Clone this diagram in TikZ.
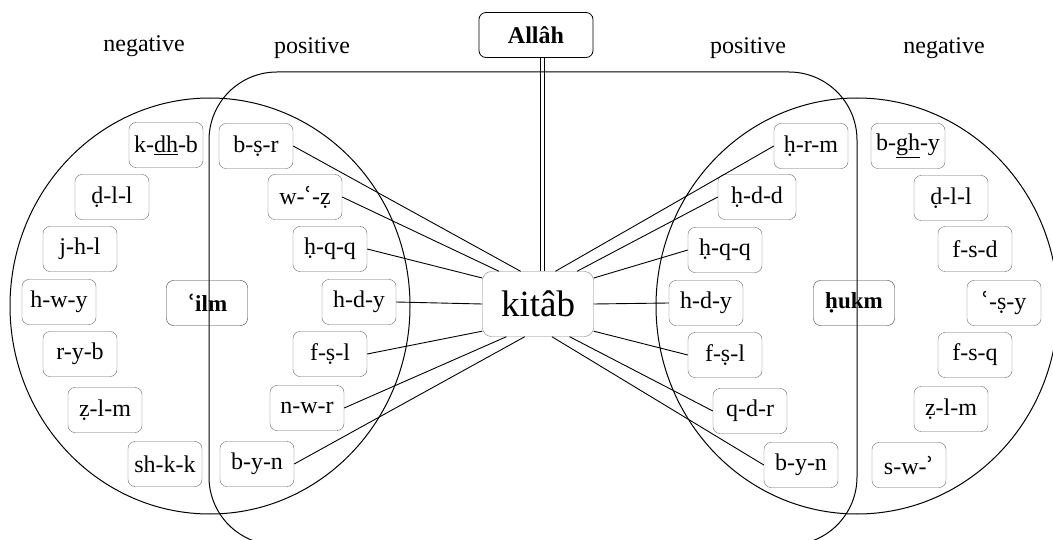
\documentclass[tikz,border=0pt]{standalone}
\usepackage{fontspec}
\setmainfont{Liberation Serif}
\newfontfamily\dvs{DejaVu Serif}
\newcommand{\ayn}{{\dvs ʿ}}
\newcommand{\hmz}{{\dvs ʾ}}
\begin{document}
\begin{tikzpicture}[x=1pt,y=-1pt,
  root/.style={draw=black!60, rounded corners=7pt, minimum width=74pt, minimum height=45pt, inner sep=2pt, font=\fontsize{24}{28}\selectfont},
  keybox/.style={draw=black!80, rounded corners=7pt, minimum width=81pt, minimum height=45pt, inner sep=2pt, font=\bfseries\fontsize{23}{27}\selectfont},
  lab/.style={font=\fontsize{24}{28}\selectfont},
  link/.style={black, line width=0.9pt},
  area/.style={black, line width=1pt}]
\clip (0,0) rectangle (1053,540);
% regions
\draw[area] (210,306) ellipse [x radius=200pt, y radius=208pt];
\draw[area] (857,306) ellipse [x radius=201pt, y radius=208pt];
\draw[area, rounded corners=68pt] (209,72) rectangle (857,545);
% labels
\node[lab] (ln) at (144,46) {negative};
\node[lab] (lp) at (312,48) {positive};
\node[lab] (rp) at (748,48) {positive};
\node[lab] (rn) at (944,48) {negative};
% central nodes
\node[draw=black, line width=0.8pt, rounded corners=7pt, minimum width=114pt, minimum height=45pt, font=\bfseries\fontsize{24}{28}\selectfont] (allah) at (536,35) {Allâh};
\node[draw=black!50, rounded corners=9pt, minimum width=111pt, minimum height=65pt, font=\fontsize{37}{42}\selectfont] (kitab) at (538,304) {kitâb};
\draw[link] ([xshift=4pt]allah.south) -- ([xshift=4pt]allah.south |- kitab.north);
\draw[link] ([xshift=8pt]allah.south) -- ([xshift=8pt]allah.south |- kitab.north);
% key nodes
\node[keybox] (ilm) at (207,303) {\ayn ilm};
\node[keybox] (hukm) at (854,303) {ḥukm};
% left negative
\node[root] (kdhb) at (166,145) {k-\underline{dh}-b};
\node[root] (dll1) at (112,197) {ḍ-l-l};
\node[root] (jhl) at (80,249) {j-h-l};
\node[root] (hwy) at (59,302) {h-w-y};
\node[root] (ryb) at (80,354) {r-y-b};
\node[root] (zlm1) at (105,410) {ẓ-l-m};
\node[root] (shkk) at (165,464) {sh-k-k};
% left positive
\node[root] (bsr) at (256,146) {b-ṣ-r};
\node[root] (waz) at (305,197) {w-\ayn-ẓ};
\node[root] (hqq1) at (330,249) {ḥ-q-q};
\node[root] (hdy1) at (359,302) {h-d-y};
\node[root] (fsl1) at (330,354) {f-ṣ-l};
\node[root] (nwr) at (307,408) {n-w-r};
\node[root] (byn1) at (257,464) {b-y-n};
% right positive
\node[root] (hrm) at (811,146) {ḥ-r-m};
\node[root, minimum width=78pt] (hdd) at (757,197) {ḥ-d-d};
\node[root] (hqq2) at (725,250) {ḥ-q-q};
\node[root] (hdy2) at (706,303) {h-d-y};
\node[root] (fsl2) at (725,355) {f-ṣ-l};
\node[root] (qdr) at (750,411) {q-d-r};
\node[root] (byn2) at (801,465) {b-y-n};
% right negative
\node[root] (bghy) at (908,146) {b-\underline{gh}-y};
\node[root] (dll2) at (951,198) {ḍ-l-l};
\node[root] (fsd) at (975,249) {f-s-d};
\node[root] (asy) at (1004,303) {\ayn-ṣ-y};
\node[root] (fsq) at (975,355) {f-s-q};
\node[root] (zlm2) at (951,409) {ẓ-l-m};
\node[root] (swa) at (909,465) {s-w-\hmz};
% connectors
\draw[link] (bsr.east) -- (kitab.118);
\draw[link] (waz.east) -- (kitab.140);
\draw[link] (hqq1.east) -- (kitab.155);
\draw[link] (hdy1.east) -- (kitab.180);
\draw[link] (fsl1.east) -- (kitab.206);
\draw[link] (nwr.east) -- (kitab.226);
\draw[link] (byn1.east) -- (kitab.248);
\draw[link] (hrm.west) -- (kitab.62);
\draw[link] (hdd.west) -- (kitab.40);
\draw[link] (hqq2.west) -- (kitab.25);
\draw[link] (hdy2.west) -- (kitab.0);
\draw[link] (fsl2.west) -- (kitab.-26);
\draw[link] (qdr.west) -- (kitab.-46);
\draw[link] (byn2.west) -- (kitab.-67);
\end{tikzpicture}
\end{document}
